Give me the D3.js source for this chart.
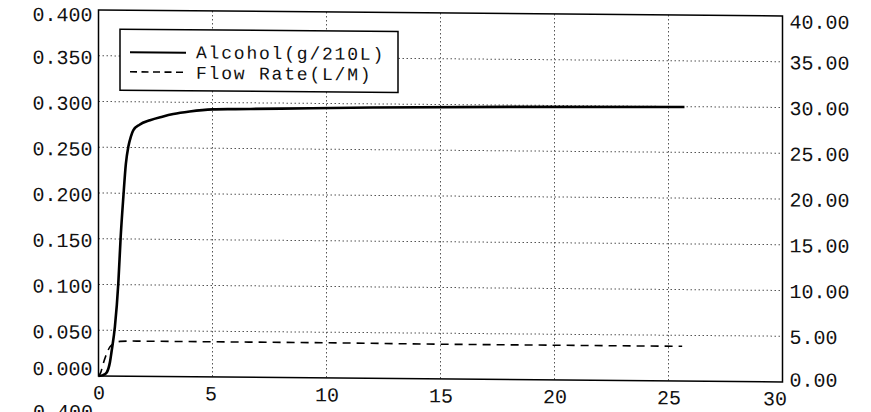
<!DOCTYPE html>
<html lang="en">

<head>
    <meta charset="UTF-8">
    <title>Alcohol / Flow Rate</title>
    <script src="https://d3js.org/d3.v7.min.js"></script>
    <style>
        body { margin: 0; background: #fff; }
        text { font-family: "Liberation Mono", "DejaVu Sans Mono", monospace; fill: #111; }
    </style>
</head>

<body>
    <div class="chart"></div>

    <script>
        // data
        const alcoholTime = [0, 0.2, 0.36, 0.5, 0.58, 0.72, 0.87, 0.97, 1.09, 1.2, 1.31, 1.42, 1.53, 1.8, 2.26, 2.8, 3.28, 4, 5, 6, 8, 12, 18, 25.7];
        const alcoholVal = [0, 0.001, 0.004, 0.015, 0.028, 0.054, 0.102, 0.151, 0.196, 0.232, 0.251, 0.262, 0.269, 0.275, 0.280, 0.284, 0.287, 0.290, 0.2925, 0.293, 0.294, 0.296, 0.298, 0.2995];
        const flowTime = [0, 0.1, 0.2, 0.35, 0.5, 0.7, 0.95, 1.5, 5, 10, 15, 20, 25.6];
        const flowVal = [0, 0.4, 1.3, 2.4, 3.2, 3.6, 3.8, 3.85, 3.85, 3.85, 3.8, 3.8, 3.8];

        const xTicks = [0, 5, 10, 15, 20, 25, 30];
        const leftTicks = [0, 0.05, 0.1, 0.15, 0.2, 0.25, 0.3, 0.35, 0.4];
        const rightTicks = [0, 5, 10, 15, 20, 25, 30, 35, 40];
        const legendLabels = ["Alcohol(g/210L)", "Flow Rate(L/M)"];

        const W = 871, H = 412;
        const pLeft = 98.5, pRight = 782.5, pTop = 10, pBottom = 376;

        const x = d3.scaleLinear().domain([0, 30]).range([pLeft, pRight]);
        const yL = d3.scaleLinear().domain([0, 0.4]).range([pBottom, pTop]);
        const yR = d3.scaleLinear().domain([0, 40]).range([pBottom, pTop]);

        const root = d3.select(".chart").append("svg")
            .attr("width", W).attr("height", H);

        // the scan is slightly tilted: skew everything a bit
        const k = Math.tan(0.5 * Math.PI / 180);
        const svg = root.append("g")
            .attr("transform", `translate(0,${-k * pLeft}) skewY(0.5)`);

        // dotted grid
        svg.append("g")
            .selectAll("line")
            .data(xTicks.slice(1, -1))
            .join("line")
            .attr("x1", d => x(d)).attr("x2", d => x(d))
            .attr("y1", pTop).attr("y2", pBottom)
            .attr("stroke", "#555").attr("stroke-width", 1)
            .attr("stroke-dasharray", "1.5,2.5");

        svg.append("g")
            .selectAll("line")
            .data(leftTicks.slice(1, -1))
            .join("line")
            .attr("x1", pLeft).attr("x2", pRight)
            .attr("y1", d => yL(d)).attr("y2", d => yL(d))
            .attr("stroke", "#555").attr("stroke-width", 1)
            .attr("stroke-dasharray", "1.5,2.5");

        // frame
        svg.append("rect")
            .attr("x", pLeft).attr("y", pTop)
            .attr("width", pRight - pLeft).attr("height", pBottom - pTop)
            .attr("fill", "none").attr("stroke", "#000").attr("stroke-width", 1.5);

        // axes (labels only, frame drawn above)
        const fmt3 = d3.format(".3f"), fmt2 = d3.format(".2f");

        const axL = svg.append("g")
            .attr("transform", `translate(${pLeft},0)`)
            .call(d3.axisLeft(yL).tickValues(leftTicks).tickFormat(fmt3).tickSize(0).tickPadding(6));

        const axR = svg.append("g")
            .attr("transform", `translate(${pRight},0)`)
            .call(d3.axisRight(yR).tickValues(rightTicks).tickFormat(fmt2).tickSize(0).tickPadding(7));

        const axB = svg.append("g")
            .attr("transform", `translate(0,${pBottom})`)
            .call(d3.axisBottom(x).tickValues(xTicks).tickSize(0).tickPadding(9));

        [axL, axR, axB].forEach(a => {
            a.select(".domain").remove();
            a.selectAll("text").attr("font-family", null).attr("font-size", 20);
        });
        axL.selectAll("text").attr("dy", d => d === 0 ? "-0.05em" : (d === 0.4 ? "0.55em" : "0.4em"));
        axR.selectAll("text").attr("dy", d => d === 0 ? "0.2em" : (d === 40 ? "0.6em" : "0.35em"));
        axB.selectAll("text")
            .attr("dy", "0.72em")
            .attr("text-anchor", d => d === 30 ? "end" : "middle")
            .attr("dx", d => d === 30 ? "0.2em" : (d === 5 ? "-0.1em" : 0));

        // series
        const alcohol = alcoholTime.map((t, i) => [t, alcoholVal[i]]);
        const flow = flowTime.map((t, i) => [t, flowVal[i]]);

        svg.append("path")
            .datum(flow)
            .attr("fill", "none").attr("stroke", "#000").attr("stroke-width", 1.6)
            .attr("stroke-dasharray", "8,6")
            .attr("d", d3.line().x(d => x(d[0])).y(d => yR(d[1])).curve(d3.curveMonotoneX));

        svg.append("path")
            .datum(alcohol)
            .attr("fill", "none").attr("stroke", "#000").attr("stroke-width", 2.6)
            .attr("d", d3.line().x(d => x(d[0])).y(d => yL(d[1])).curve(d3.curveMonotoneX));

        // legend
        const lg = svg.append("g");
        lg.append("rect")
            .attr("x", 120).attr("y", 29).attr("width", 278).attr("height", 61)
            .attr("fill", "#fff").attr("stroke", "#000").attr("stroke-width", 1.5);
        lg.append("line")
            .attr("x1", 130).attr("x2", 186).attr("y1", 52).attr("y2", 52)
            .attr("stroke", "#000").attr("stroke-width", 2.2);
        lg.append("line")
            .attr("x1", 130).attr("x2", 186).attr("y1", 71.5).attr("y2", 71.5)
            .attr("stroke", "#000").attr("stroke-width", 1.6).attr("stroke-dasharray", "7,4.5");
        lg.selectAll("text.lab")
            .data(legendLabels)
            .join("text")
            .attr("class", "lab")
            .attr("x", 196)
            .attr("y", (d, i) => 57.5 + i * 20.5)
            .attr("font-size", 18)
            .attr("letter-spacing", 1.8)
            .text(d => d);

        // edge of the next chart on the scanned page
        root.append("text")
            .attr("x", 93).attr("y", 418)
            .attr("text-anchor", "end").attr("font-size", 20)
            .text("0.400");
    </script>
</body>

</html>
